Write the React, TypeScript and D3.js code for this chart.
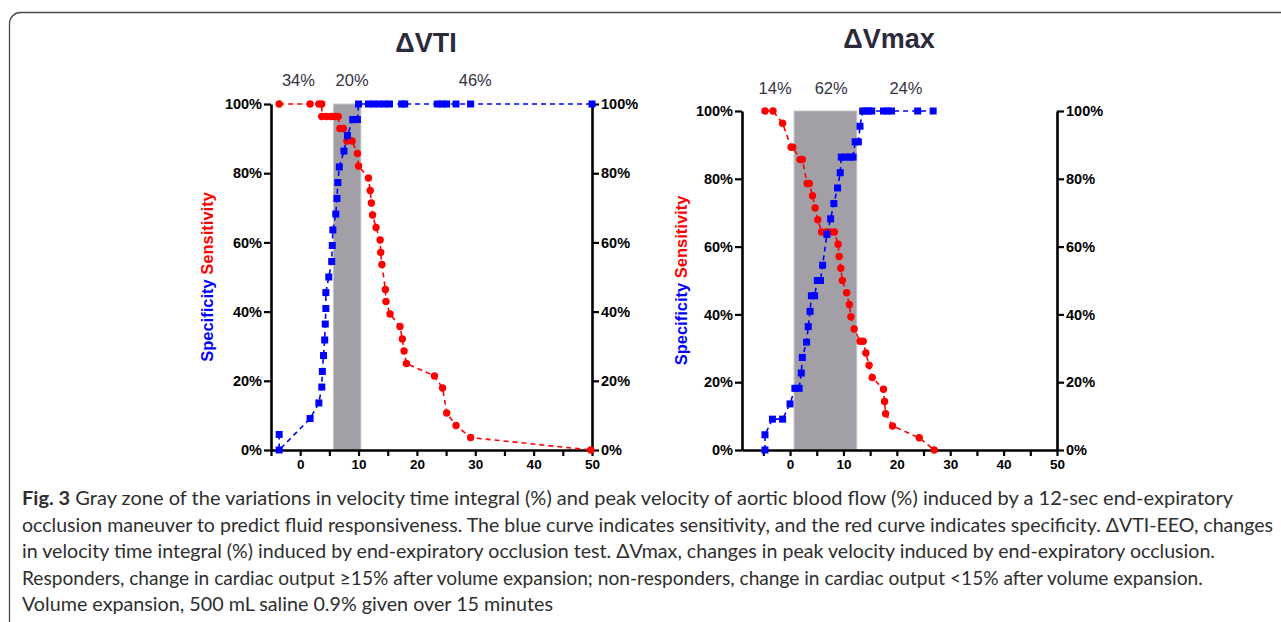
import * as d3 from "d3";
import React, {useEffect, useRef} from "react";

const yTicks = [0, 20, 40, 60, 80, 100];
const xTicks = [-5, 0, 5, 10, 15, 20, 25, 30, 35, 40, 45, 50];

// ΔVTI panel
const vtiZone = [5.7, 10.4];
const vtiZoneLabels = ["34%", "20%", "46%"];
const vtiZoneLabelX = [-0.3, 8.9, 30];
const vtiBlueX = [-3.6, -3.6, 1.7, 3.2, 3.7, 3.8, 4.0, 4.2, 4.3, 4.4, 4.4, 4.9, 5.4, 5.5, 5.6, 6.1, 6.3, 6.45, 6.7, 7.5, 8.1, 9.0, 9.8, 10.0, 11.7, 12.6, 13.5, 14.4, 15.3, 17.4, 17.9, 23.5, 24.3, 25.1, 26.7, 29.2, 50];
const vtiBlueY = [4.5, 0, 9.1, 13.6, 18.2, 22.7, 27.3, 31.8, 36.4, 40.9, 45.5, 50, 54.5, 59.1, 63.6, 68.2, 72.7, 77.3, 81.8, 86.4, 90.9, 95.5, 95.5, 100, 100, 100, 100, 100, 100, 100, 100, 100, 100, 100, 100, 100, 100];
const vtiRedX = [-3.6, 1.7, 3.2, 3.7, 3.7, 4.5, 5.3, 6.0, 6.5, 6.8, 7.4, 8.0, 8.9, 9.8, 10.0, 11.7, 12.0, 12.2, 12.4, 13.0, 13.7, 13.8, 14.0, 14.6, 14.7, 15.4, 17.1, 17.5, 17.8, 18.2, 23.0, 24.4, 25.1, 26.7, 29.2, 49.8];
const vtiRedY = [100, 100, 100, 100, 96.4, 96.4, 96.4, 96.4, 96.4, 92.9, 92.9, 89.3, 89.3, 85.7, 82.1, 78.6, 75, 71.4, 67.9, 64.3, 60.7, 57.1, 53.6, 46.4, 42.9, 39.3, 35.7, 32.1, 28.6, 25, 21.4, 17.9, 10.7, 7.1, 3.6, 0];

// ΔVmax panel
const vmaxZone = [0.75, 12.5];
const vmaxZoneLabels = ["14%", "62%", "24%"];
const vmaxZoneLabelX = [-2.8, 7.7, 21.7];
const vmaxBlueX = [-4.7, -4.7, -3.3, -1.4, 0, 0.9, 1.7, 2.1, 2.3, 3.1, 3.4, 3.75, 4.0, 4.6, 5.1, 5.7, 6.1, 6.9, 7.6, 8.2, 8.9, 9.4, 9.6, 10.4, 11.2, 11.8, 12.2, 12.8, 13.1, 13.6, 14.2, 14.8, 15.3, 17.5, 18.2, 19.0, 23.9, 26.8];
const vmaxBlueY = [0, 4.5, 9.1, 9.1, 13.6, 18.2, 18.2, 22.7, 27.3, 31.8, 36.4, 40.9, 45.5, 45.5, 50, 50, 54.5, 63.6, 68.2, 72.7, 77.3, 81.8, 86.4, 86.4, 86.4, 86.4, 90.9, 90.9, 95.5, 100, 100, 100, 100, 100, 100, 100, 100, 100];
const vmaxRedX = [-4.7, -3.2, -1.4, 0.2, 0.5, 1.9, 2.3, 3.2, 3.6, 4.2, 4.7, 5.2, 5.9, 6.8, 7.6, 8.3, 9.0, 9.2, 9.5, 9.8, 10.6, 11.1, 11.4, 12.0, 13.1, 13.7, 14.2, 14.8, 15.4, 17.5, 17.7, 17.9, 19.2, 24.2, 27.0];
const vmaxRedY = [100, 100, 96.4, 89.3, 89.3, 85.7, 85.7, 78.6, 78.6, 75, 71.4, 67.9, 64.3, 64.3, 64.3, 64.3, 60.7, 57.1, 53.6, 50, 46.4, 42.9, 39.3, 35.7, 32.1, 32.1, 28.6, 25, 21.4, 17.9, 14.3, 10.7, 7.1, 3.6, 0];

const captionLines = [
  " Gray zone of the variations in velocity time integral (%) and peak velocity of aortic blood flow (%) induced by a 12-sec end-expiratory",
  "occlusion maneuver to predict fluid responsiveness. The blue curve indicates sensitivity, and the red curve indicates specificity. \u0394VTI-EEO, changes",
  "in velocity time integral (%) induced by end-expiratory occlusion test. \u0394Vmax, changes in peak velocity induced by end-expiratory occlusion.",
  "Responders, change in cardiac output \u226515% after volume expansion; non-responders, change in cardiac output <15% after volume expansion.",
  "Volume expansion, 500 mL saline 0.9% given over 15 minutes",
];
const captionEnds = [1233, 1273, 1215, 1134, 553];

const BLUE = "#0000ff";
const RED = "#ff0000";
const AXIS_FONT = "'Liberation Sans', Arial, sans-serif";

interface IPanel {
  title: string
  titleX: number
  titleY: number
  zone: number[]
  zoneLabels: string[]
  zoneLabelX: number[]
  zoneLabelY: number
  blueX: number[]
  blueY: number[]
  redX: number[]
  redY: number[]
  xMin: number
  xRange: [number, number]
  yRange: [number, number]
  yTitleX: number
}

const panels: IPanel[] = [
  {
    title: "\u0394VTI", titleX: 426, titleY: 52,
    zone: vtiZone, zoneLabels: vtiZoneLabels, zoneLabelX: vtiZoneLabelX, zoneLabelY: 86,
    blueX: vtiBlueX, blueY: vtiBlueY, redX: vtiRedX, redY: vtiRedY,
    xMin: -5, xRange: [271, 592], yRange: [450, 104], yTitleX: 207,
  },
  {
    title: "\u0394Vmax", titleX: 889, titleY: 48,
    zone: vmaxZone, zoneLabels: vmaxZoneLabels, zoneLabelX: vmaxZoneLabelX, zoneLabelY: 94,
    blueX: vmaxBlueX, blueY: vmaxBlueY, redX: vmaxRedX, redY: vmaxRedY,
    xMin: -9, xRange: [742, 1057], yRange: [450, 111], yTitleX: 681,
  },
];

const drawPanel = (svg: d3.Selection<SVGSVGElement, unknown, null, undefined>, p: IPanel) => {
  const x = d3.scaleLinear().domain([p.xMin, 50]).range(p.xRange);
  const y = d3.scaleLinear().domain([0, 100]).range(p.yRange);
  const g = svg.append("g");

  // gray zone
  g.append("rect")
    .attr("x", x(p.zone[0]))
    .attr("y", y(100))
    .attr("width", x(p.zone[1]) - x(p.zone[0]))
    .attr("height", y(0) - y(100))
    .attr("fill", "#a2a0a6")
    .attr("stroke", "#c6c5c9")
    .attr("stroke-width", 1);

  const styleAxis = (a: d3.Selection<SVGGElement, unknown, null, undefined>) => {
    a.attr("font-family", AXIS_FONT).attr("font-size", 14.5).attr("font-weight", "bold");
    a.select(".domain").attr("stroke-width", 2.6);
    a.selectAll(".tick line").attr("stroke-width", 2.2);
    a.selectAll(".tick text").attr("fill", "#000");
  };

  const pct = (d: d3.NumberValue) => `${d}%`;

  g.append("g")
    .attr("transform", `translate(${p.xRange[0]},0)`)
    .call(d3.axisLeft(y).tickValues(yTicks).tickFormat(pct).tickSize(7).tickSizeOuter(0).tickPadding(2))
    .call(styleAxis);

  g.append("g")
    .attr("transform", `translate(${p.xRange[1]},0)`)
    .call(d3.axisRight(y).tickValues(yTicks).tickFormat(pct).tickSize(7).tickSizeOuter(0).tickPadding(2))
    .call(styleAxis);

  const xAxis = g.append("g")
    .attr("transform", `translate(0,${p.yRange[0]})`)
    .call(d3.axisBottom(x)
      .tickValues(xTicks)
      .tickFormat((d) => (+d >= 0 && +d % 10 === 0 ? `${d}` : ""))
      .tickSize(6).tickSizeOuter(0).tickPadding(3))
    .call(styleAxis);
  xAxis.attr("font-size", 13.5);

  const line = d3.line<[number, number]>().x((d) => x(d[0])).y((d) => y(d[1]));

  const red = d3.zip(p.redX, p.redY) as [number, number][];
  const blue = d3.zip(p.blueX, p.blueY) as [number, number][];

  g.append("path")
    .attr("d", line(red))
    .attr("fill", "none")
    .attr("stroke", RED)
    .attr("stroke-width", 1.6)
    .attr("stroke-dasharray", "5,4");

  g.selectAll(".red-pt")
    .data(red)
    .enter()
    .append("circle")
    .attr("class", "red-pt")
    .attr("cx", (d) => x(d[0]))
    .attr("cy", (d) => y(d[1]))
    .attr("r", 3.7)
    .attr("fill", RED);

  g.append("path")
    .attr("d", line(blue))
    .attr("fill", "none")
    .attr("stroke", BLUE)
    .attr("stroke-width", 1.6)
    .attr("stroke-dasharray", "5,4");

  g.selectAll(".blue-pt")
    .data(blue)
    .enter()
    .append("rect")
    .attr("class", "blue-pt")
    .attr("x", (d) => x(d[0]) - 3.5)
    .attr("y", (d) => y(d[1]) - 3.5)
    .attr("width", 7)
    .attr("height", 7)
    .attr("fill", BLUE);

  // titles and zone percentages
  g.append("text")
    .attr("x", p.titleX)
    .attr("y", p.titleY)
    .attr("text-anchor", "middle")
    .attr("font-family", AXIS_FONT)
    .attr("font-weight", "bold")
    .attr("font-size", 27)
    .attr("fill", "#2b2a3b")
    .text(p.title);

  g.selectAll(".zone-label")
    .data(p.zoneLabels)
    .enter()
    .append("text")
    .attr("class", "zone-label")
    .attr("x", (_, i) => x(p.zoneLabelX[i]))
    .attr("y", p.zoneLabelY)
    .attr("text-anchor", "middle")
    .attr("font-family", AXIS_FONT)
    .attr("font-size", 16.5)
    .attr("fill", "#33323f")
    .text((d) => d);

  const yTitle = g.append("text")
    .attr("transform", `translate(${p.yTitleX},${(y(0) + y(100)) / 2}) rotate(-90)`)
    .attr("text-anchor", "middle")
    .attr("dy", "0.35em")
    .attr("font-family", AXIS_FONT)
    .attr("font-weight", "bold")
    .attr("font-size", 16.5);
  yTitle.append("tspan").attr("fill", BLUE).text("Specificity");
  yTitle.append("tspan").attr("fill", RED).text(" Sensitivity");
};

const App: React.FC = () => {
  const ref = useRef<SVGSVGElement | null>(null);

  useEffect(() => {
    const svg = d3.select(ref.current!) as d3.Selection<SVGSVGElement, unknown, null, undefined>;
    svg.selectAll("*").remove();

    svg.append("rect").attr("width", 1281).attr("height", 622).attr("fill", "#fff");

    // figure frame
    svg.append("rect")
      .attr("x", 9.5)
      .attr("y", 12.5)
      .attr("width", 1320)
      .attr("height", 700)
      .attr("rx", 11)
      .attr("fill", "none")
      .attr("stroke", "#4a4a4a")
      .attr("stroke-width", 1.3);

    panels.forEach((p) => drawPanel(svg, p));

    // caption: font size from the first three lines, then a small per-line fit
    const baseSize = 18;
    const cap = svg.append("g")
      .attr("font-family", "Lato, 'Noto Sans', sans-serif")
      .attr("font-size", baseSize)
      .attr("fill", "#2e2e2e");
    const texts = captionLines.map((t, i) => {
      const txt = cap.append("text")
        .attr("x", 22)
        .attr("y", 505 + i * 26.6);
      if (i === 0) {
        txt.append("tspan").attr("font-weight", "bold").text("Fig. 3");
      }
      txt.append("tspan").text(t);
      return txt;
    });
    const ratios = texts.slice(0, 3).map((t, i) => {
      const w = (t.node() as SVGTextElement).getComputedTextLength();
      return w > 0 ? (captionEnds[i] - 22) / w : 1;
    });
    cap.attr("font-size", baseSize * (d3.mean(ratios) ?? 1));
    texts.forEach((t, i) => {
      const w = (t.node() as SVGTextElement).getComputedTextLength();
      if (w <= 0) return;
      const target = Math.max(w * 0.97, Math.min(w * 1.03, captionEnds[i] - 22));
      t.attr("textLength", target).attr("lengthAdjust", "spacingAndGlyphs");
    });

    return () => {
      svg.selectAll("*").remove();
    };
  }, []);

  return (
    <svg
      ref={ref}
      width={1281}
      height={622}
      style={{position: "absolute", left: 0, top: 0, display: "block"}}
    />
  );
};

export default App;
